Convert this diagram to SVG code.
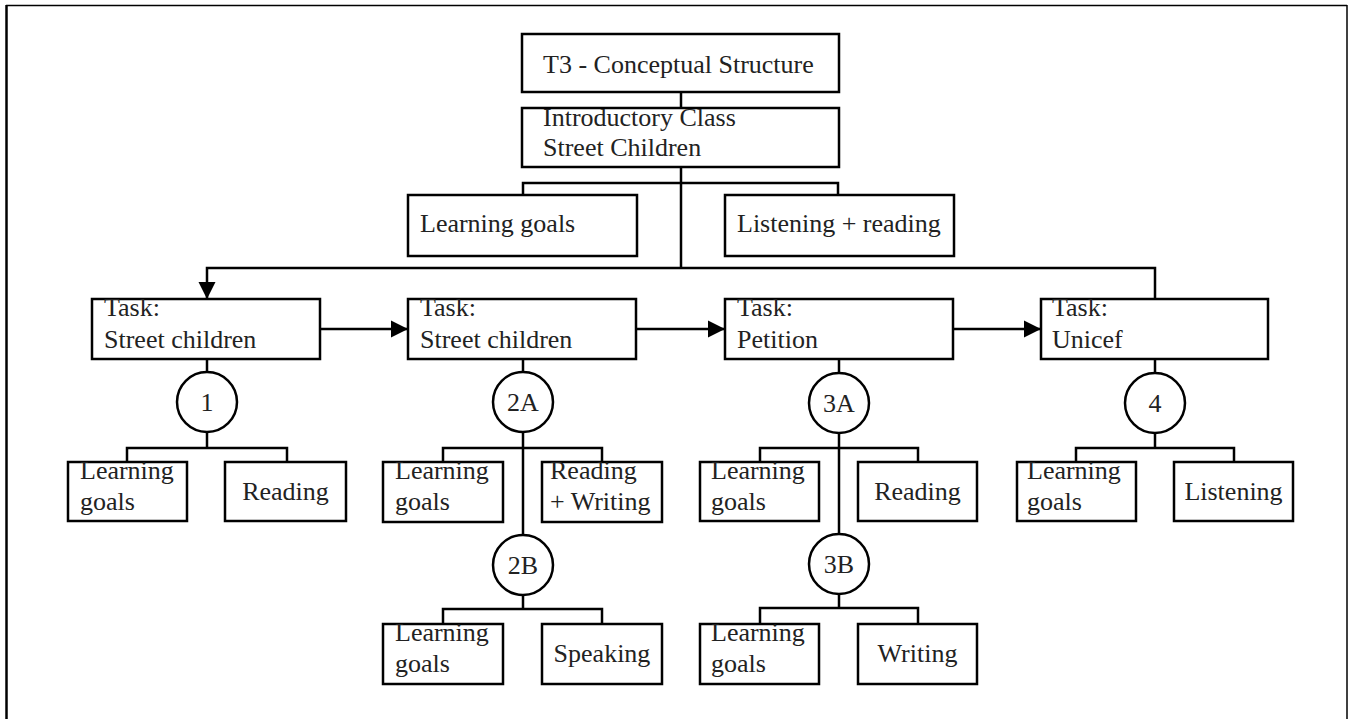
<svg xmlns="http://www.w3.org/2000/svg" width="1357" height="719" viewBox="0 0 1357 719">
<defs>
<style>
.box{fill:#fff;stroke:#000;stroke-width:2.5}
.ln{fill:none;stroke:#000;stroke-width:2.5}
.frame{fill:none;stroke:#000}
.t{font-family:'Liberation Serif','Times New Roman',Times,serif;font-size:26px;fill:#222}
.c{text-anchor:middle}
</style>
<marker id="ah" viewBox="0 0 10 10" refX="10" refY="5" markerWidth="17" markerHeight="19" markerUnits="userSpaceOnUse" orient="auto">
<path d="M0,0 L10,5 L0,10 Z" fill="#000"/>
</marker>
</defs>
<rect width="1357" height="719" fill="#fff"/>
<g id="frame">
<line class="frame" x1="6" y1="5.5" x2="1347" y2="5.5" stroke-width="1.5"/>
<line class="frame" x1="6.5" y1="5" x2="6.5" y2="719" stroke-width="2.5"/>
<line class="frame" x1="1347" y1="5" x2="1347" y2="719" stroke-width="1.5"/>
</g>
<g id="connectors">
<line class="ln" x1="681" y1="92" x2="681" y2="108"/>
<line class="ln" x1="681" y1="167" x2="681" y2="268"/>
<polyline class="ln" points="523,195 523,183 838,183 838,195"/>
<polyline class="ln" points="1155,299 1155,268 207,268 207,299" marker-end="url(#ah)"/>
<line class="ln" x1="320" y1="329" x2="408" y2="329" marker-end="url(#ah)"/>
<line class="ln" x1="636" y1="329" x2="725" y2="329" marker-end="url(#ah)"/>
<line class="ln" x1="953" y1="329" x2="1041" y2="329" marker-end="url(#ah)"/>
<line class="ln" x1="207" y1="359" x2="207" y2="372"/>
<line class="ln" x1="207" y1="432" x2="207" y2="448"/>
<polyline class="ln" points="127,462 127,448 287,448 287,462"/>
<line class="ln" x1="523" y1="359" x2="523" y2="372"/>
<line class="ln" x1="523" y1="432" x2="523" y2="535"/>
<polyline class="ln" points="443,462 443,448 602,448 602,462"/>
<line class="ln" x1="523" y1="595" x2="523" y2="609"/>
<polyline class="ln" points="443,624 443,609 602,609 602,624"/>
<line class="ln" x1="839" y1="359" x2="839" y2="373"/>
<line class="ln" x1="839" y1="433" x2="839" y2="534"/>
<polyline class="ln" points="760,462 760,448 918,448 918,462"/>
<line class="ln" x1="839" y1="594" x2="839" y2="608"/>
<polyline class="ln" points="760,624 760,608 918,608 918,624"/>
<line class="ln" x1="1155" y1="359" x2="1155" y2="373"/>
<line class="ln" x1="1155" y1="433" x2="1155" y2="448"/>
<polyline class="ln" points="1076,462 1076,448 1234,448 1234,462"/>
</g>
<g id="n-title"><rect class="box" x="522" y="34" width="317" height="58"/><text class="t" x="543" y="73">T3 - Conceptual Structure</text></g>
<g id="n-intro"><rect class="box" x="522" y="108" width="317" height="59"/><text class="t" x="543" y="126">Introductory Class</text><text class="t" x="543" y="156">Street Children</text></g>
<g id="n-intro-lg"><rect class="box" x="408" y="195" width="229" height="61"/><text class="t" x="420" y="232">Learning goals</text></g>
<g id="n-intro-lr"><rect class="box" x="725" y="195" width="229" height="61"/><text class="t" x="737" y="232">Listening + reading</text></g>
<g id="n-task1"><rect class="box" x="92" y="299" width="228" height="60"/><text class="t" x="104" y="316">Task:</text><text class="t" x="104" y="348">Street children</text></g>
<g id="n-task2"><rect class="box" x="408" y="299" width="228" height="60"/><text class="t" x="420" y="316">Task:</text><text class="t" x="420" y="348">Street children</text></g>
<g id="n-task3"><rect class="box" x="725" y="299" width="228" height="60"/><text class="t" x="737" y="316">Task:</text><text class="t" x="737" y="348">Petition</text></g>
<g id="n-task4"><rect class="box" x="1041" y="299" width="227" height="60"/><text class="t" x="1052" y="316">Task:</text><text class="t" x="1052" y="348">Unicef</text></g>
<g id="n-c1"><circle class="box" cx="207" cy="402" r="30"/><text class="t c" x="207" y="411">1</text></g>
<g id="n-c2a"><circle class="box" cx="523" cy="402" r="30"/><text class="t c" x="523" y="411">2A</text></g>
<g id="n-c2b"><circle class="box" cx="523" cy="565" r="30"/><text class="t c" x="523" y="574">2B</text></g>
<g id="n-c3a"><circle class="box" cx="839" cy="403" r="30"/><text class="t c" x="839" y="412">3A</text></g>
<g id="n-c3b"><circle class="box" cx="839" cy="564" r="30"/><text class="t c" x="839" y="573">3B</text></g>
<g id="n-c4"><circle class="box" cx="1155" cy="403" r="30"/><text class="t c" x="1155" y="412">4</text></g>
<g id="n-1-lg"><rect class="box" x="68" y="462" width="119" height="59"/><text class="t" x="80" y="479">Learning</text><text class="t" x="80" y="510">goals</text></g>
<g id="n-1-r"><rect class="box" x="225" y="462" width="121" height="59"/><text class="t c" x="285.5" y="500">Reading</text></g>
<g id="n-2a-lg"><rect class="box" x="383" y="462" width="120" height="60"/><text class="t" x="395" y="479">Learning</text><text class="t" x="395" y="510">goals</text></g>
<g id="n-2a-rw"><rect class="box" x="542" y="462" width="120" height="60"/><text class="t" x="550" y="479">Reading</text><text class="t" x="550" y="510">+ Writing</text></g>
<g id="n-2b-lg"><rect class="box" x="383" y="624" width="120" height="60"/><text class="t" x="395" y="641">Learning</text><text class="t" x="395" y="672">goals</text></g>
<g id="n-2b-s"><rect class="box" x="542" y="624" width="120" height="60"/><text class="t c" x="602" y="662">Speaking</text></g>
<g id="n-3a-lg"><rect class="box" x="700" y="462" width="119" height="59"/><text class="t" x="711" y="479">Learning</text><text class="t" x="711" y="510">goals</text></g>
<g id="n-3a-r"><rect class="box" x="858" y="462" width="119" height="59"/><text class="t c" x="917.5" y="500">Reading</text></g>
<g id="n-3b-lg"><rect class="box" x="700" y="624" width="119" height="60"/><text class="t" x="711" y="641">Learning</text><text class="t" x="711" y="672">goals</text></g>
<g id="n-3b-w"><rect class="box" x="858" y="624" width="119" height="60"/><text class="t c" x="917.5" y="662">Writing</text></g>
<g id="n-4-lg"><rect class="box" x="1017" y="462" width="119" height="59"/><text class="t" x="1027" y="479">Learning</text><text class="t" x="1027" y="510">goals</text></g>
<g id="n-4-l"><rect class="box" x="1174" y="462" width="119" height="59"/><text class="t c" x="1233.5" y="500">Listening</text></g>
</svg>
